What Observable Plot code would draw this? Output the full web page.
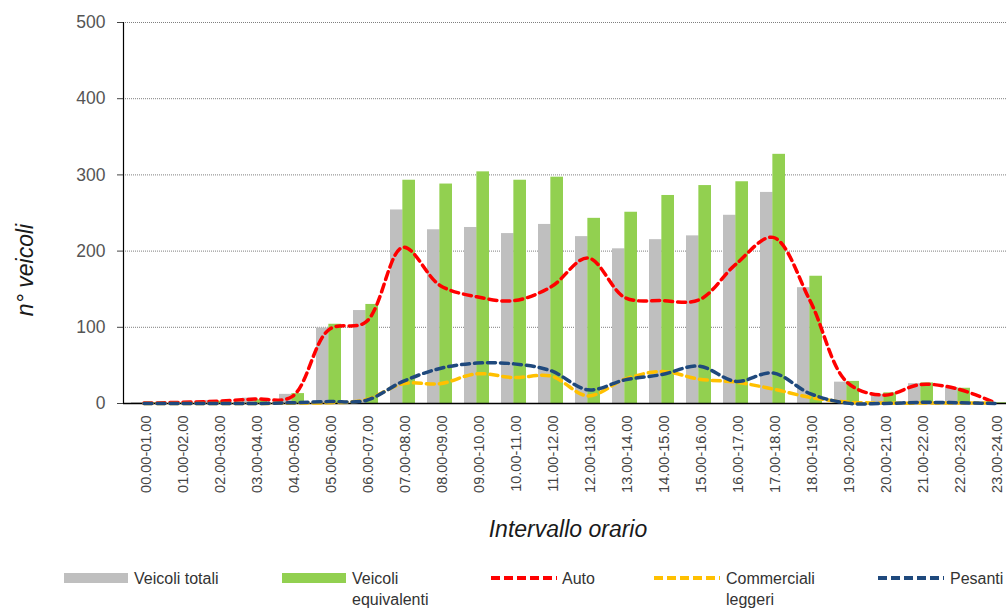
<!DOCTYPE html>
<html>
<head>
<meta charset="utf-8">
<script src="https://cdn.jsdelivr.net/npm/d3@7"></script>
<script src="https://cdn.jsdelivr.net/npm/@observablehq/plot@0.6"></script>
<style>
  html, body { margin: 0; padding: 0; background: #fff; overflow: hidden; }
  #wrap { position: relative; width: 1006px; height: 610px; overflow: hidden; font-family: "Liberation Sans", Arial, sans-serif; color: #333; }
  #chart { position: absolute; left: 0; top: 0; }
  .ttl { position: absolute; white-space: nowrap; font-style: italic; color: #1a1a1a; line-height: 1; }
  .leg { position: absolute; font-size: 16px; line-height: 21px; color: #333; white-space: nowrap; }
  .sw { position: absolute; }
</style>
</head>
<body>
<div id="wrap">
  <div id="chart"></div>
</div>
<script>
const categories = ["00.00-01.00","01.00-02.00","02.00-03.00","03.00-04.00","04.00-05.00","05.00-06.00",
  "06.00-07.00","07.00-08.00","08.00-09.00","09.00-10.00","10.00-11.00","11.00-12.00",
  "12.00-13.00","13.00-14.00","14.00-15.00","15.00-16.00","16.00-17.00","17.00-18.00",
  "18.00-19.00","19.00-20.00","20.00-21.00","21.00-22.00","22.00-23.00","23.00-24.00"];
const veicoliTotali      = [1, 1, 4, 7, 12, 99, 122, 254, 228, 231, 223, 235, 219, 203, 215, 220, 247, 277, 152, 28, 12, 26, 21, 1];
const veicoliEquivalenti = [1, 1, 3, 5, 13, 104, 130, 293, 288, 304, 293, 297, 243, 251, 273, 286, 291, 327, 167, 29, 14, 27, 20, 1];
const auto               = [0.5, 1.5, 3, 6, 9, 97, 107, 205, 155, 140, 135, 153, 191, 139, 135, 136, 183, 218, 135, 28, 11, 25, 19, 1];
const commercialiLeggeri = [0, 0, 0, 0, 0.5, 1, 5, 26, 26, 39, 34, 36, 10, 32, 42, 32, 28, 19, 8, 2, 0.5, 0.5, 0.5, 0.5];
const pesanti            = [0, 0, 0, 0, 1, 2.5, 4, 29, 46, 53, 52, 43, 18, 31, 38, 49, 29, 40, 13, 0.5, 0, 1.5, 1, 0];
const yTicks = [0, 100, 200, 300, 400, 500];

const seriesNames = ["Veicoli totali", "Veicoli equivalenti", "Auto", "Commerciali leggeri", "Pesanti"];
const colors = {"Veicoli totali": "#BFBFBF", "Veicoli equivalenti": "#92D050", "Auto": "#FF0000", "Commerciali leggeri": "#FFC000", "Pesanti": "#1F497D"};

const rows = categories.map((c, i) => ({cat: c, tot: veicoliTotali[i], eq: veicoliEquivalenti[i], auto: auto[i], comm: commercialiLeggeri[i], pes: pesanti[i]}));

const xRange = [124, 1014];
const step = (xRange[1] - xRange[0]) / categories.length;
const half = step * (2 / 3) / 2;

const lineOpts = (key, color) => Plot.line(rows, {x: "cat", y: key, stroke: color, strokeWidth: 3.5, strokeDasharray: "8,5", curve: "catmull-rom"});

const chart = Plot.plot({
  width: 1006,
  height: 610,
  marginLeft: 123,
  marginRight: 0,
  marginTop: 22,
  marginBottom: 207,
  style: {fontFamily: "Liberation Sans, Arial, sans-serif", background: "transparent", overflow: "hidden", color: "#444"},
  x: {domain: categories, range: xRange, paddingInner: 1/3, paddingOuter: 1/6},
  y: {domain: [0, 500]},
  marks: [
    Plot.ruleY(yTicks.filter(d => d > 0), {stroke: "#7f7f7f", strokeDasharray: "1,1", strokeWidth: 1}),
    Plot.barY(rows, {x: "cat", y: "tot", fill: colors["Veicoli totali"], insetRight: half}),
    Plot.barY(rows, {x: "cat", y: "eq", fill: colors["Veicoli equivalenti"], insetLeft: half}),
    Plot.ruleY([0], {stroke: "#000", strokeWidth: 1.5}),
    Plot.frame({anchor: "left", stroke: "#000", strokeWidth: 1.2}),
    lineOpts("auto", colors["Auto"]),
    lineOpts("comm", colors["Commerciali leggeri"]),
    lineOpts("pes", colors["Pesanti"]),
    Plot.axisY({ticks: yTicks, tickSize: 6, tickPadding: 12, fontSize: 17.5, label: null, fill: "#555"}),
    Plot.axisX({tickRotate: -90, tickSize: 0, tickPadding: 12, fontSize: 14.5, label: null, dx: 2})
  ]
});
document.getElementById("chart").appendChild(chart);

const wrap = document.getElementById("wrap");
function add(html, cls, style) {
  const d = document.createElement("div");
  d.className = cls;
  d.innerHTML = html;
  Object.assign(d.style, style);
  wrap.appendChild(d);
  return d;
}
// axis titles
add("n° veicoli", "ttl", {left: "25px", top: "270px", fontSize: "23px", transform: "translate(-50%,-50%) rotate(-90deg)"});
add("Intervallo orario", "ttl", {left: "568px", top: "529px", fontSize: "23px", transform: "translate(-50%,-50%)"});

// legend
const legend = [
  {name: seriesNames[0], type: "rect", x0: 64, x1: 128, tx: 134, label: "Veicoli totali"},
  {name: seriesNames[1], type: "rect", x0: 282, x1: 346, tx: 352, label: "Veicoli<br>equivalenti"},
  {name: seriesNames[2], type: "line", x0: 491, x1: 557, tx: 562, label: "Auto"},
  {name: seriesNames[3], type: "line", x0: 654, x1: 720, tx: 726, label: "Commerciali<br>leggeri"},
  {name: seriesNames[4], type: "line", x0: 878, x1: 944, tx: 950, label: "Pesanti"}
];
legend.forEach(l => {
  const w = l.x1 - l.x0;
  const sw = l.type === "rect"
    ? `<svg width="${w}" height="10"><rect x="0" y="0" width="${w}" height="10" fill="${colors[l.name]}"/></svg>`
    : `<svg width="${w}" height="10"><line x1="0" x2="${w}" y1="5" y2="5" stroke="${colors[l.name]}" stroke-width="4" stroke-dasharray="9,4"/></svg>`;
  add(sw, "sw", {left: l.x0 + "px", top: "573px", height: "10px", lineHeight: "0"});
  add(l.label, "leg", {left: l.tx + "px", top: "568px"});
});
</script>
</body>
</html>
